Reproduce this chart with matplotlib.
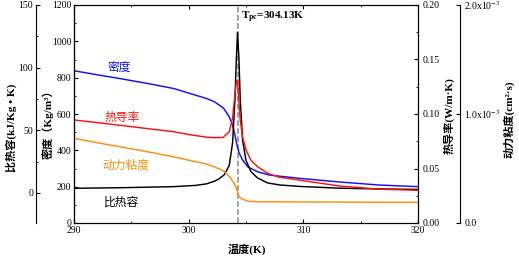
import numpy as np
import matplotlib
matplotlib.use("Agg")
import matplotlib.pyplot as plt
from matplotlib.ticker import MultipleLocator, FixedLocator, FixedFormatter

plt.rcParams['font.family'] = ['Liberation Serif', 'Noto Sans CJK SC']
plt.rcParams['mathtext.fontset'] = 'stix'
plt.rcParams['axes.unicode_minus'] = False

# --- data ---
tpc_label = "304.13"
tpc_line = 304.32

# density (kg/m3)
t_rho = [290.0, 292.1, 294.28, 296.5, 298.65, 301.53, 302.23, 303.01, 303.54,
         303.83, 304.04, 304.21, 304.41, 304.7, 305.14, 306.0, 307.03, 309.65,
         313.1, 316.6, 320.0]
rho = [838, 815, 792, 767, 741, 686, 668, 634, 585,
       539, 484, 429, 384, 347, 310, 282, 264, 246,
       226, 209, 200]

# thermal conductivity (W/m.K)
t_k = [290.0, 292.1, 294.28, 296.5, 298.65, 300.1, 301.53, 302.23, 303.01,
       303.54, 303.83, 304.04, 304.17, 304.26, 304.35, 304.5, 304.7, 305.0,
       305.43, 306.0, 306.88, 307.9, 309.65, 313.1, 316.6, 320.0]
k = [0.0945, 0.092, 0.0893, 0.0865, 0.0838, 0.081, 0.0788, 0.0783, 0.0785,
     0.0838, 0.096, 0.119, 0.1296, 0.131, 0.1159, 0.0945, 0.079, 0.067,
     0.0576, 0.0517, 0.0456, 0.042, 0.0394, 0.034, 0.031, 0.030]

# kinematic viscosity (cm2/s)
t_nu = [290.0, 292.1, 294.28, 296.5, 298.65, 301.53, 302.23, 303.01, 303.54,
        303.97, 304.21, 304.32, 304.56, 305.14, 306.0, 307.9, 309.65, 313.1,
        316.6, 320.0]
nu = np.array([0.777, 0.735, 0.694, 0.652, 0.608, 0.541, 0.516, 0.481, 0.428,
               0.364, 0.303, 0.257, 0.226, 0.200, 0.195, 0.194, 0.193, 0.192,
               0.19, 0.19]) * 1e-3

# specific heat (kJ/kg.K)
t_cp = [290.0, 294.3, 298.65, 300.6, 301.53, 302.23, 302.66, 303.1, 303.54,
        303.83, 304.04, 304.15, 304.26, 304.38, 304.5, 304.7, 305.0, 305.43,
        306.0, 306.88, 307.9, 309.65, 313.1, 316.6, 320.0]
cp = [3.7, 4.2, 5.0, 6.0, 7.2, 9.3, 11.3, 14.5, 22,
      40, 75, 105, 128, 108, 74, 42, 26, 17,
      12, 8, 6.4, 5.2, 3.8, 3.2, 2.8]

fig = plt.figure(figsize=(5.19, 2.59), dpi=100)
ax = fig.add_axes([74/519, 1 - 223/259, 344/519, 218/259])
ax_cp = ax.twinx()
ax_k = ax.twinx()
ax_nu = ax.twinx()

# move extra spines
ax_cp.spines['left'].set_position(('axes', -38/344))
ax_cp.spines['left'].set_visible(True)
ax_cp.yaxis.set_label_position('left')
ax_cp.yaxis.set_ticks_position('left')
ax_cp.spines['right'].set_visible(False)
for sp in ['top', 'bottom']:
    ax_cp.spines[sp].set_visible(False)
    ax_nu.spines[sp].set_visible(False)
ax_nu.spines['right'].set_position(('axes', 386/344))

lw = 1.05
ax.plot(t_rho, rho, color='#1010ff', lw=lw)
ax_k.plot(t_k, k, color='#ff1010', lw=lw)
ax_nu.plot(t_nu, nu, color='#ff8c10', lw=lw)
ax_cp.plot(t_cp, cp, color='black', lw=lw)
ax.axvline(tpc_line, color='#888888', ls='--', lw=1.1, zorder=0)

ax.set_xlim(290, 320)
ax.set_ylim(0, 1200)
ax_cp.set_ylim(-24, 150)
ax_k.set_ylim(0, 0.2)
ax_nu.set_ylim(0, 2e-3)

tick_fs = 7
ax.xaxis.set_major_locator(MultipleLocator(10))
ax.xaxis.set_minor_locator(MultipleLocator(5))
ax.yaxis.set_major_locator(MultipleLocator(200))
ax.yaxis.set_minor_locator(MultipleLocator(100))
ax.tick_params(which='both', direction='in', top=True, right=False, labelsize=tick_fs, pad=2)
ax.tick_params(which='major', length=3)
ax.tick_params(which='minor', length=1.5)

ax_cp.yaxis.set_major_locator(FixedLocator([0, 50, 100, 150]))
ax_cp.yaxis.set_minor_locator(FixedLocator([-25, 25, 75, 125]))
ax_cp.tick_params(which='both', direction='in', labelsize=tick_fs, pad=2)
ax_cp.tick_params(which='major', length=3)
ax_cp.tick_params(which='minor', length=1.5)

ax_k.yaxis.set_major_locator(MultipleLocator(0.05))
ax_k.yaxis.set_minor_locator(MultipleLocator(0.025))
ax_k.yaxis.set_major_formatter(plt.FormatStrFormatter('%.2f'))
ax_k.tick_params(which='both', direction='in', labelsize=tick_fs, pad=3)
ax_k.tick_params(which='major', length=3)
ax_k.tick_params(which='minor', length=1.5)

ax_nu.yaxis.set_major_locator(FixedLocator([0, 1e-3, 2e-3]))
ax_nu.yaxis.set_major_formatter(FixedFormatter(['0.0', '1.0x10$^{-3}$', '2.0x10$^{-3}$']))
ax_nu.tick_params(which='both', direction='in', labelsize=tick_fs, pad=3, length=3)

lab_fs = 8
fam = ['Liberation Serif', 'Noto Sans CJK SC']
ax.set_xlabel('温度(K)', fontsize=lab_fs, fontweight='bold', family=fam)
ax.xaxis.set_label_coords(0.503, -0.095)
ax.set_ylabel('密度（Kg/m³）', fontsize=lab_fs, fontweight='bold', family=fam)
ax.yaxis.set_label_coords(-0.058, 0.463)
ax_cp.set_ylabel('比热容(kJ/Kg • K)', fontsize=lab_fs, fontweight='bold', family=fam)
ax_cp.yaxis.set_label_coords(-0.165, 0.436)
ax_k.set_ylabel('热导率(W/m·K)', fontsize=lab_fs, fontweight='bold', family=fam)
ax_k.yaxis.set_label_coords(1.073, 0.495)
ax_nu.set_ylabel('动力粘度(cm²·s)', fontsize=lab_fs, fontweight='bold', family=fam)
ax_nu.yaxis.set_label_coords(1.247, 0.477)

# curve names
name_fs = 8.5
cjk = ['Noto Sans CJK SC']
ax.text(292.9, 858, '密度', color='#1010ff', fontsize=name_fs, family=cjk, va='center')
ax.text(292.7, 583, '热导率', color='#ff1010', fontsize=name_fs, family=cjk, va='center')
ax.text(292.45, 319, '动力粘度', color='#ff8c10', fontsize=name_fs, family=cjk, va='center')
ax.text(292.6, 116, '比热容', color='black', fontsize=name_fs, family=cjk, va='center')

ax.text(304.6, 1134, 'T$_{\\mathbf{pc}}$=' + tpc_label + 'K', fontsize=8,
        fontweight='bold', va='center')

fig.savefig('out.png', dpi=100)
